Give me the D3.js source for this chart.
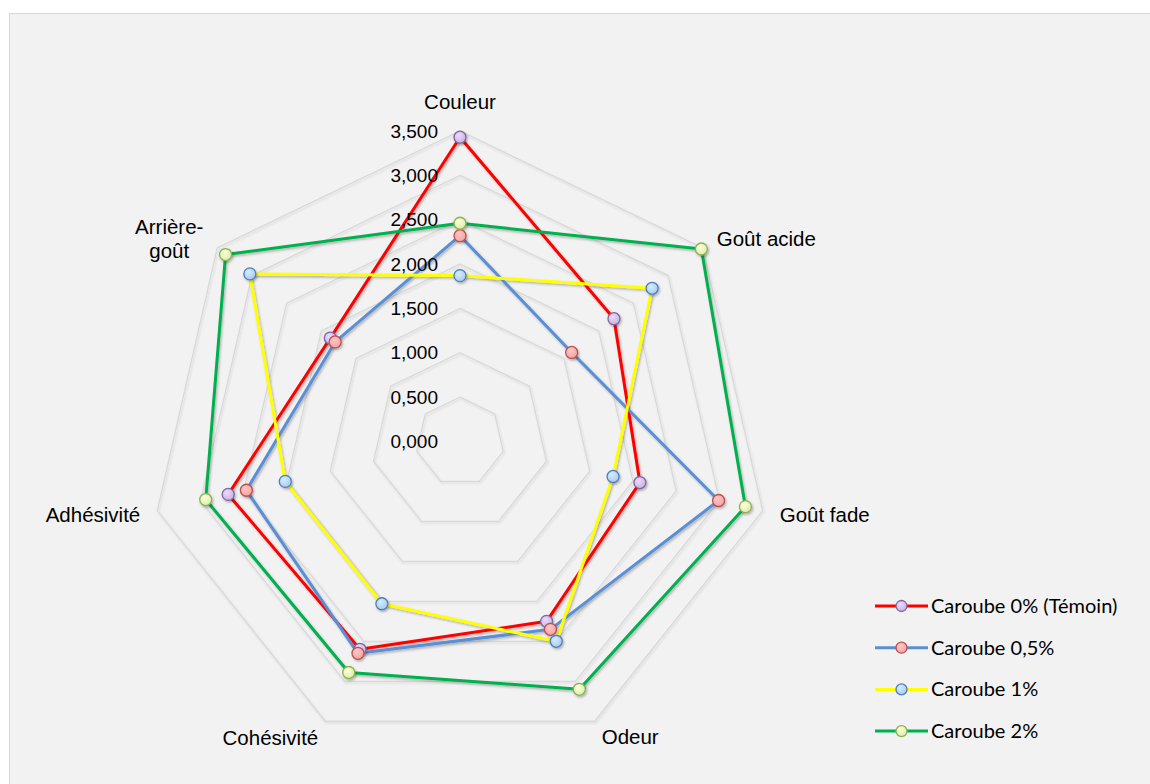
<!DOCTYPE html>
<html>
<head>
<meta charset="utf-8">
<script src="https://cdn.jsdelivr.net/npm/d3@7"></script>
<style>
  html, body { margin: 0; padding: 0; background: #f2f2f2; overflow: hidden; }
  svg { display: block; }
</style>
</head>
<body>
<svg id="chart" width="1150" height="784"></svg>
<script>
// Sensory attributes (radar axes), clockwise from the top
const attributes = ["Couleur", "Goût acide", "Goût fade", "Odeur", "Cohésivité", "Adhésivité", "Arrière-goût"];

// Mean scores per formulation
const seriesNames = ["Caroube 0% (Témoin)", "Caroube 0,5%", "Caroube 1%", "Caroube 2%"];
const caroube0  = [3.43, 2.22, 2.08, 2.25, 2.60, 2.68, 1.87];
const caroube05 = [2.32, 1.61, 2.99, 2.35, 2.65, 2.47, 1.80];
const caroube1  = [1.87, 2.77, 1.77, 2.50, 2.03, 2.02, 3.03];
const caroube2  = [2.46, 3.48, 3.30, 3.10, 2.89, 2.94, 3.38];

// Radial ticks
const tickValues = [0, 0.5, 1, 1.5, 2, 2.5, 3, 3.5];

const series = [
  { name: seriesNames[0], values: caroube0,  line: "#ff0000", fill: "#c7b5de", stroke: "#7d68a0" },
  { name: seriesNames[1], values: caroube05, line: "#5a8fd6", fill: "#f3a5a4", stroke: "#b8524f" },
  { name: seriesNames[2], values: caroube1,  line: "#ffff00", fill: "#aec8ec", stroke: "#4d7fbd" },
  { name: seriesNames[3], values: caroube2,  line: "#00b050", fill: "#d9edb3", stroke: "#8db24e" }
];

const svg = d3.select("#chart");
const defs = svg.append("defs");

// soft outer shadow used by lines and markers
const shadow = defs.append("filter").attr("id", "shadow")
  .attr("x", "-20%").attr("y", "-20%").attr("width", "140%").attr("height", "140%");
shadow.append("feDropShadow")
  .attr("dx", 1.2).attr("dy", 1.6).attr("stdDeviation", 1.3)
  .attr("flood-color", "#000").attr("flood-opacity", 0.28);

const gridShadow = defs.append("filter").attr("id", "gridShadow")
  .attr("x", "-10%").attr("y", "-10%").attr("width", "120%").attr("height", "120%");
gridShadow.append("feDropShadow")
  .attr("dx", 1).attr("dy", 1.5).attr("stdDeviation", 1.2)
  .attr("flood-color", "#000").attr("flood-opacity", 0.12);

// radial gradients for the glossy markers
series.forEach((s, i) => {
  const g = defs.append("radialGradient").attr("id", "mk" + i)
    .attr("cx", "40%").attr("cy", "35%").attr("r", "65%");
  g.append("stop").attr("offset", "0%").attr("stop-color", d3.color(s.fill).brighter(0.5));
  g.append("stop").attr("offset", "100%").attr("stop-color", s.fill);
});

// page margin around the chart area
svg.append("rect")
  .attr("x", 0).attr("y", 0).attr("width", 1150).attr("height", 784)
  .attr("fill", "#ffffff");

// chart area
svg.append("rect")
  .attr("x", 9.5).attr("y", 13.5)
  .attr("width", 1160).attr("height", 800)
  .attr("fill", "#f2f2f2").attr("stroke", "#d9d9d9").attr("stroke-width", 1);

const cx = 460, cy = 441.5, R = 310.5;
const r = d3.scaleLinear().domain([0, 3.5]).range([0, R]);
const n = attributes.length;
const angle = d3.scaleLinear().domain([0, n]).range([0, 2 * Math.PI]);

const pt = (i, v) => [cx + r(v) * Math.sin(angle(i)), cy - r(v) * Math.cos(angle(i))];

const fmt = d3.formatLocale({ decimal: ",", thousands: " ", grouping: [3], currency: ["", ""] }).format(".3f");

// grid rings
const gridG = svg.append("g").attr("filter", "url(#gridShadow)");
tickValues.filter(t => t > 0).forEach(t => {
  const ring = d3.range(n).map(i => pt(i, t));
  gridG.append("path")
    .attr("d", d3.line()(ring) + "Z")
    .attr("fill", "none")
    .attr("stroke", "#d9d9d9")
    .attr("stroke-width", 1.3);
});

// series lines
const lineGen = d3.line().x(d => d[0]).y(d => d[1]);
const linesG = svg.append("g").attr("filter", "url(#shadow)");
series.forEach(s => {
  const pts = s.values.map((v, i) => pt(i, v));
  linesG.append("path")
    .attr("d", lineGen(pts) + "Z")
    .attr("fill", "none")
    .attr("stroke", s.line)
    .attr("stroke-width", 3)
    .attr("stroke-linejoin", "round");
});

// markers
const markG = svg.append("g").attr("filter", "url(#shadow)");
series.forEach((s, si) => {
  markG.selectAll(null)
    .data(s.values.map((v, i) => pt(i, v)))
    .join("circle")
    .attr("cx", d => d[0]).attr("cy", d => d[1])
    .attr("r", 6)
    .attr("fill", `url(#mk${si})`)
    .attr("stroke", s.stroke)
    .attr("stroke-width", 1.3);
});

// tick labels along the top axis
svg.append("g")
  .selectAll("text")
  .data(tickValues)
  .join("text")
  .attr("x", cx - 22)
  .attr("y", d => cy - r(d))
  .attr("dy", "0.35em")
  .attr("text-anchor", "end")
  .attr("font-family", "'Liberation Sans', Arial, sans-serif")
  .attr("font-size", 19)
  .attr("fill", "#000")
  .text(d => fmt(d));

// category labels, placed just outside the outer ring
const labelOffset = [
  { dx: 0, dy: -29, anchor: "middle" },
  { dx: 14, dy: -9, anchor: "start" },
  { dx: 17, dy: 4, anchor: "start" },
  { dx: 7, dy: 16, anchor: "start" },
  { dx: -7, dy: 17, anchor: "end" },
  { dx: -17, dy: 4, anchor: "end" },
  { dx: -48, dy: -21, anchor: "middle" }
];
const catG = svg.append("g")
  .attr("font-family", "'Liberation Sans', Arial, sans-serif")
  .attr("font-size", 20.5)
  .attr("fill", "#000");
attributes.forEach((a, i) => {
  const [x, y] = pt(i, 3.5);
  const o = labelOffset[i];
  const t = catG.append("text")
    .attr("x", x + o.dx).attr("y", y + o.dy)
    .attr("text-anchor", o.anchor)
    .attr("dy", "0.35em");
  if (a === "Arrière-goût") {
    t.append("tspan").attr("x", x + o.dx).text("Arrière-");
    t.append("tspan").attr("x", x + o.dx).attr("dy", "1.17em").text("goût");
  } else {
    t.text(a);
  }
});

// legend
const legend = svg.append("g").attr("transform", "translate(875, 606)");
series.forEach((s, i) => {
  const g = legend.append("g").attr("transform", `translate(0, ${i * 41.7})`);
  g.append("line")
    .attr("x1", 0).attr("x2", 53).attr("y1", 0).attr("y2", 0)
    .attr("stroke", s.line).attr("stroke-width", 3);
  g.append("circle")
    .attr("cx", 26.5).attr("cy", 0).attr("r", 5.5)
    .attr("fill", `url(#mk${i})`).attr("stroke", s.stroke).attr("stroke-width", 1.3);
  g.append("text")
    .attr("x", 56).attr("y", 0).attr("dy", "0.35em")
    .attr("font-family", "Lato, 'Open Sans', sans-serif")
    .attr("font-size", 20)
    .attr("fill", "#000")
    .text(s.name);
});
</script>
</body>
</html>
